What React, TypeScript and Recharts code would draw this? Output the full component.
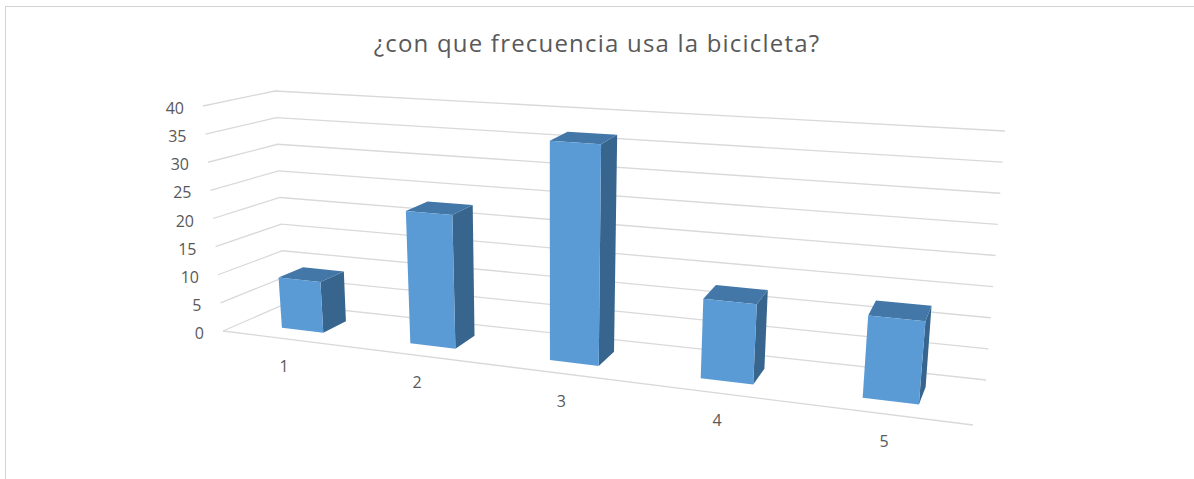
import { BarChart, Bar, XAxis, YAxis, CartesianGrid } from 'recharts';

// frecuencia de uso de la bicicleta (respuestas 1-5)
const categories = ['1', '2', '3', '4', '5'];
const counts = [9, 23, 37, 13, 13];
const yTicks = [0, 5, 10, 15, 20, 25, 30, 35, 40];

const data = categories.map((name, i) => ({ name, value: counts[i] }));

// flat plot box that recharts lays out; everything is then projected
const W = 1194;
const H = 479;
const PL = 100;
const PT = 100;
const PR = 100;
const PB_H = 79;
const PW = W - PL - PR;
const PH = H - PT - PB_H;
const PBOT = PT + PH;

const GRID = '#d9d9d9';
const TEXT = '#595959';
const FRONT = '#5b9bd5';
const TOP = '#4277a8';
const SIDE = '#37658d';

// t: 0..1 along categories, d: 0 front .. 1 back, h: 0..1 of the value axis
const warp = (t: number) => t - 0.19 * t * (1 - t);
function project(t: number, d: number, h: number): [number, number] {
    const u = warp(t);
    const fx = 223 + 750 * u, fy = 331 + 94 * u;
    const bx = 285 + 701 * u, by = 304 + 76 * u;
    const x0 = fx + d * (bx - fx);
    const y0 = fy + d * (by - fy);
    const hf = 225 + 38 * u, hb = 213 + 36 * u;
    const lf = -20 + 45 * u, lb = -10 + 29 * u;
    const hh = hf + d * (hb - hf);
    const ll = lf + d * (lb - lf);
    return [x0 + ll * h, y0 - hh * h];
}

const pts = (list: [number, number][]) => list.map(p => p.join(',')).join(' ');

const D0 = 0.3;
const D1 = 0.7;

function Prism(props: any) {
    const { x, width, height } = props;
    const t0 = (x - PL) / PW;
    const t1 = (x + width - PL) / PW;
    const h = height / PH;
    const front = pts([project(t0, D0, 0), project(t1, D0, 0), project(t1, D0, h), project(t0, D0, h)]);
    const side = pts([project(t1, D0, 0), project(t1, D1, 0), project(t1, D1, h), project(t1, D0, h)]);
    const top = pts([project(t0, D0, h), project(t1, D0, h), project(t1, D1, h), project(t0, D1, h)]);
    return (
        <g>
            <polygon points={side} fill={SIDE} />
            <polygon points={top} fill={TOP} />
            <polygon points={front} fill={FRONT} />
        </g>
    );
}

// each horizontal grid line becomes a left-wall + back-wall polyline
function WallLine(props: any) {
    const { y1, index } = props;
    const h = (PBOT - y1) / PH;
    const a = project(0, 0, h);
    const b = project(0, 1, h);
    const c = project(1, 1, h);
    return (
        <g key={`wall-${index}`}>
            <polyline points={pts([a, b, c])} fill="none" stroke={GRID} strokeWidth={1.3} />
            {Math.abs(h) < 1e-6 && (
                <line x1={a[0]} y1={a[1]} x2={project(1, 0, 0)[0]} y2={project(1, 0, 0)[1]} stroke={GRID} strokeWidth={1.3} />
            )}
        </g>
    );
}

function YTick(props: any) {
    const { y, payload } = props;
    const h = (PBOT - y) / PH;
    const [px, py] = project(0, 0, h);
    return (
        <text x={px - 19} y={py + 2} textAnchor="end" dominantBaseline="central" fill={TEXT} fontSize={16} fontFamily="'Open Sans', sans-serif">
            {payload.value}
        </text>
    );
}

function XTick(props: any) {
    const { x, payload } = props;
    const t = (x - PL) / PW;
    const [px, py] = project(t, 0, 0);
    return (
        <text x={px - 1} y={py + 27} textAnchor="middle" dominantBaseline="central" fill={TEXT} fontSize={16} fontFamily="'Open Sans', sans-serif">
            {payload.value}
        </text>
    );
}

export default function App() {
    return (
        <div style={{ position: 'absolute', left: 0, top: 0, width: W, height: H, overflow: 'hidden', background: '#fff' }}>
            <div style={{ position: 'absolute', left: 5, top: 6, width: 1400, height: 700, border: '1px solid #d4d4d4' }} />
            <div
                style={{
                    position: 'absolute',
                    left: 0,
                    width: W,
                    top: 27,
                    textAlign: 'center',
                    fontFamily: "'Open Sans', sans-serif",
                    fontSize: 24,
                    letterSpacing: '1.2px',
                    color: TEXT,
                    lineHeight: '32px',
                }}
            >
                ¿con que frecuencia usa la bicicleta?
            </div>
            <div style={{ position: 'absolute', left: 0, top: 0 }}>
                <BarChart width={W} height={H} data={data} margin={{ top: PT, right: PR, left: 0, bottom: 0 }} barCategoryGap="33.3%">
                    <CartesianGrid vertical={false} horizontal={(p: any) => <WallLine {...p} />} />
                    <XAxis dataKey="name" height={PB_H} axisLine={false} tickLine={false} tick={(p: any) => <XTick {...p} />} />
                    <YAxis width={PL} domain={[0, 40]} ticks={yTicks} axisLine={false} tickLine={false} tick={(p: any) => <YTick {...p} />} />
                    <Bar dataKey="value" isAnimationActive={false} shape={(p: any) => <Prism {...p} />} />
                </BarChart>
            </div>
        </div>
    );
}
